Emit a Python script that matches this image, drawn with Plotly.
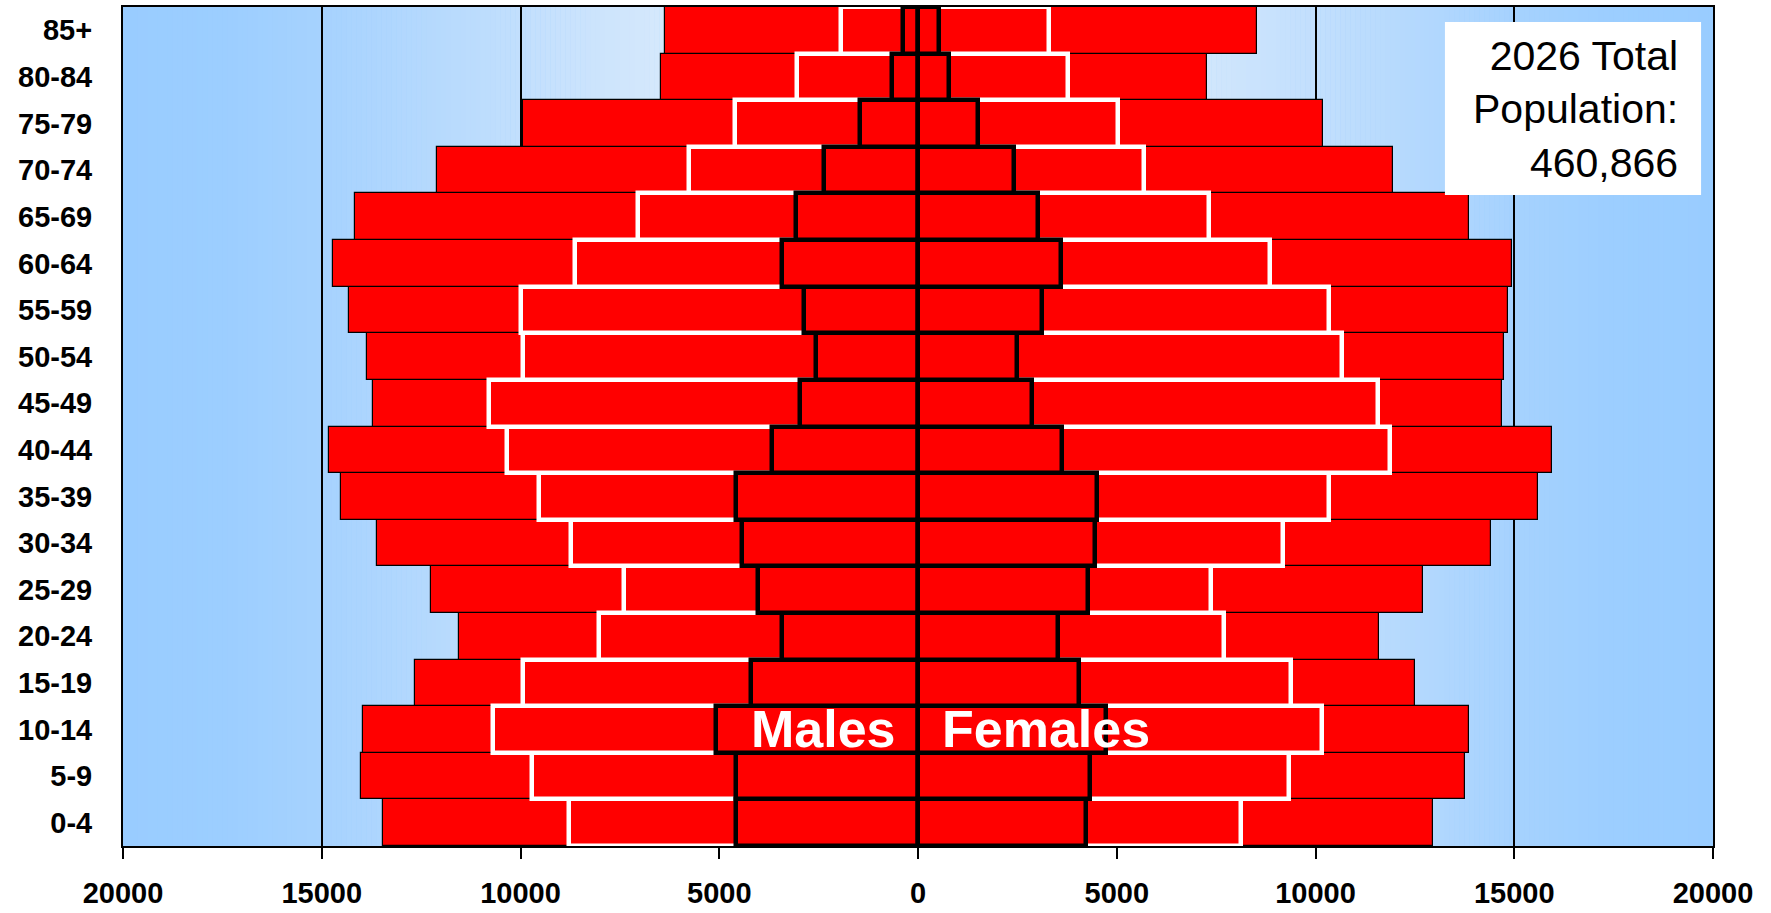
import numpy as np
import plotly.graph_objects as go

# Age bands, youngest at the bottom of the pyramid
age_groups = ["0-4", "5-9", "10-14", "15-19", "20-24", "25-29", "30-34", "35-39",
              "40-44", "45-49", "50-54", "55-59", "60-64", "65-69", "70-74",
              "75-79", "80-84", "85+"]

# 2026 population (solid red bars)
males_2026 = [13460, 14018, 13960, 12653, 11545, 12248, 13604, 14518, 14826,
              13710, 13865, 14307, 14710, 14162, 12103, 9938, 6471, 6364]
females_2026 = [12950, 13759, 13854, 12507, 11605, 12700, 14412, 15607, 15961,
                14701, 14749, 14854, 14940, 13854, 11949, 10199, 7273, 8530]

# Earlier year (white outlined bars)
males_mid = [8780, 9723, 10686, 9935, 8034, 7391, 8723, 9540, 10340,
             10782, 9935, 9975, 8617, 7054, 5757, 4600, 3042, 1926]
females_mid = [8115, 9326, 10173, 9374, 7710, 7366, 9173, 10327, 11885,
               11579, 10674, 10327, 8864, 7325, 5692, 5019, 3769, 3308]

# Earliest year (black outlined bars)
males_early = [4577, 4577, 5077, 4212, 3423, 4019, 4423, 4577, 3663,
               2962, 2567, 2865, 3413, 3058, 2365, 1452, 654, 365]
females_early = [4221, 4317, 4731, 4058, 3519, 4269, 4462, 4510, 3615,
                 2856, 2500, 3115, 3606, 3010, 2413, 1500, 788, 538]

tick_values = [-20000, -15000, -10000, -5000, 0, 5000, 10000, 15000, 20000]
tick_text = ["20000", "15000", "10000", "5000", "0", "5000", "10000", "15000", "20000"]

total_2026 = sum(males_2026) + sum(females_2026)

FONT = "Liberation Sans, Arial, sans-serif"
RED = "#FF0000"

fig = go.Figure()


def add_pair(male_vals, female_vals, line_color, line_width):
    for vals, sign in ((male_vals, -1), (female_vals, 1)):
        fig.add_trace(go.Bar(
            y=age_groups,
            x=[sign * v for v in vals],
            orientation="h",
            width=1.0,
            marker=dict(color=RED, line=dict(color=line_color, width=line_width)),
            hoverinfo="skip",
            showlegend=False,
        ))


add_pair(males_2026, females_2026, "black", 1.2)
add_pair(males_mid, females_mid, "white", 4.5)
add_pair(males_early, females_early, "black", 4.5)

# Horizontal background gradient: light in the middle, deeper blue at the edges
stops_f = [0.0, 0.33, 0.5, 0.75, 0.875, 1.0]
stops_rgb = np.array([
    [232, 242, 250],
    [212, 232, 252],
    [194, 223, 253],
    [166, 210, 254],
    [156, 206, 255],
    [153, 204, 255],
])
step = 125
shapes = []
for x0 in np.arange(-20000, 20000, step):
    xm = x0 + step / 2
    f = abs(xm) / 20000
    rgb = [int(round(np.interp(f, stops_f, stops_rgb[:, k]))) for k in range(3)]
    shapes.append(dict(
        type="rect", xref="x", yref="paper",
        x0=x0, x1=x0 + step * 1.05, y0=0, y1=1,
        fillcolor=f"rgb({rgb[0]},{rgb[1]},{rgb[2]})",
        line=dict(width=0), layer="below",
    ))

# White box behind the total label
shapes.append(dict(
    type="rect", xref="paper", yref="paper",
    x0=0.8314, x1=0.9925, y0=0.7759, y1=0.9821,
    fillcolor="white", line=dict(width=0), layer="above",
))

annotations = [
    dict(text="Males", x=-500, y="10-14", xref="x", yref="y",
         xanchor="right", yanchor="middle", showarrow=False,
         font=dict(family=FONT, size=52, color="white", weight="bold")),
    dict(text="Females", x=550, y="10-14", xref="x", yref="y",
         xanchor="left", yanchor="middle", showarrow=False,
         font=dict(family=FONT, size=52, color="white", weight="bold")),
    dict(text=f"2026 Total<br>Population:<br>{total_2026:,}",
         x=0.9792, y=0.8784, xref="paper", yref="paper",
         xanchor="right", yanchor="middle", align="right", showarrow=False,
         font=dict(family=FONT, size=41, color="black")),
]

fig.update_layout(
    width=1771, height=913,
    margin=dict(l=123, r=58, t=7, b=67),
    barmode="overlay", bargap=0,
    paper_bgcolor="white", plot_bgcolor="#99CCFF",
    shapes=shapes, annotations=annotations,
    showlegend=False,
)
fig.update_xaxes(
    range=[-20000, 20000],
    tickvals=tick_values, ticktext=tick_text,
    tickfont=dict(family=FONT, size=29, color="black", weight="bold"),
    ticks="outside", ticklen=11, tickwidth=2, tickcolor="black",
    ticklabelstandoff=9, automargin=False,
    showgrid=True, gridcolor="black", gridwidth=1.6,
    zeroline=False,
    showline=True, linecolor="black", linewidth=2, mirror=True,
    fixedrange=True,
)
fig.update_yaxes(
    type="category", categoryorder="array", categoryarray=age_groups,
    range=[-0.5, len(age_groups) - 0.5],
    tickfont=dict(family=FONT, size=29, color="black", weight="bold"),
    ticks="", ticklabelstandoff=23, automargin=False,
    showgrid=False, zeroline=False,
    showline=True, linecolor="black", linewidth=2, mirror=True,
    fixedrange=True,
)

fig.write_html("out.html")
